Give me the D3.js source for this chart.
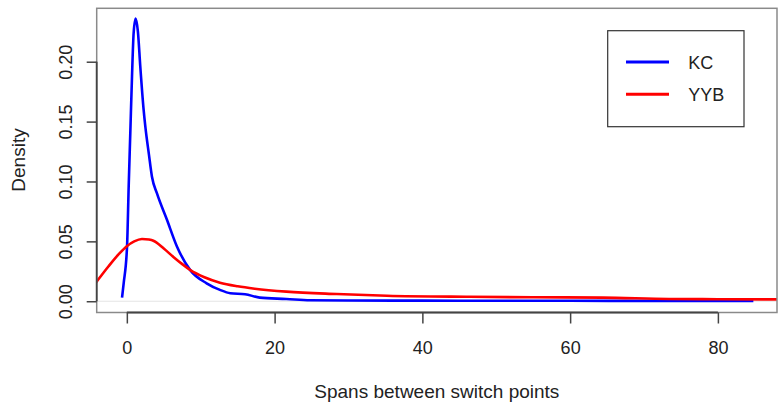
<!DOCTYPE html>
<html lang="en">
  <head>
    <meta charset="utf-8" />
    <title>Spans between switch points</title>
    <script src="https://cdn.jsdelivr.net/npm/d3@7/dist/d3.min.js"></script>
    <style>
      body {
        margin: 0;
        background: #fff;
      }
      text {
        font-family: "Liberation Sans", Arial, sans-serif;
        font-size: 18px;
        fill: #222;
      }
      .title {
        font-size: 19px;
      }
    </style>
  </head>

  <body>
    <svg id="chart"></svg>

    <script>
      // density estimates: [span, density]
      const kcX = [-0.65, -0.43, 0.03, 0.25, 0.47, 0.7, 0.92, 1.19, 1.5, 1.82, 2.27, 2.5, 3.0, 3.4, 4.08, 5.43, 6.78, 8.58, 10.8, 12.6, 14.0, 16.0, 18.0, 21.6, 24.8, 30, 40, 50, 60, 70, 84.8];
      const kcY = [0.003, 0.015, 0.046, 0.096, 0.141, 0.188, 0.224, 0.236, 0.225, 0.196, 0.16, 0.146, 0.122, 0.104, 0.09, 0.068, 0.0457, 0.026, 0.015, 0.0095, 0.0067, 0.0059, 0.003, 0.0019, 0.0008, 0.0006, 0.0005, 0.0004, 0.0004, 0.0003, 0.0003];

      const yybX = [-4.5, -4.08, -2.5, -1, 0, 1, 2.05, 3.0, 3.6, 5, 6.3, 7.5, 8.6, 10.5, 12.6, 15, 17.3, 21.6, 28.4, 35.2, 46.4, 55, 64.4, 73.4, 80, 90];
      const yybY = [0.013, 0.0164, 0.029, 0.04, 0.046, 0.05, 0.052, 0.0515, 0.0505, 0.044, 0.037, 0.031, 0.026, 0.02, 0.0155, 0.0125, 0.0105, 0.008, 0.006, 0.0046, 0.0037, 0.0033, 0.003, 0.0019, 0.0017, 0.0015];

      const seriesNames = ["KC", "YYB"];
      const seriesColors = ["#0000ff", "#ff0000"];
      const xTicks = [0, 20, 40, 60, 80];
      const yTicks = [0, 0.05, 0.1, 0.15, 0.2];

      const W = 778, H = 402;
      const margin = { top: 8.3, right: 1, bottom: 89.5, left: 96.7 };
      const width = W - margin.left - margin.right;
      const height = H - margin.top - margin.bottom;

      const svg = d3.select("#chart").attr("width", W).attr("height", H);
      const g = svg.append("g").attr("transform", `translate(${margin.left},${margin.top})`);

      // R style: 4% padding around the data range
      const xscale = d3.scaleLinear().domain([-4.08, 88.0]).range([0, width]);
      const yscale = d3.scaleLinear().domain([-0.0094, 0.2446]).range([height, 0]);

      g.append("clipPath")
        .attr("id", "plot-clip")
        .append("rect")
        .attr("width", width)
        .attr("height", height);

      // zero line
      g.append("line")
        .attr("x1", 0)
        .attr("x2", width)
        .attr("y1", yscale(0))
        .attr("y2", yscale(0))
        .attr("stroke", "#e4e4e4")
        .attr("stroke-width", 1);

      // density curves
      const line = d3
        .line()
        .x(d => xscale(d[0]))
        .y(d => yscale(d[1]))
        .curve(d3.curveMonotoneX);

      const series = [d3.zip(kcX, kcY), d3.zip(yybX, yybY)];

      g.append("g")
        .attr("clip-path", "url(#plot-clip)")
        .selectAll("path")
        .data(series)
        .join("path")
        .attr("d", line)
        .attr("fill", "none")
        .attr("stroke", (d, i) => seriesColors[i])
        .attr("stroke-width", 2.6)
        .attr("stroke-linejoin", "round");

      // plot box
      g.append("rect")
        .attr("width", width)
        .attr("height", height)
        .attr("fill", "none")
        .attr("stroke", "#8a8a8a")
        .attr("stroke-width", 1.5);

      // x axis
      const xaxis = d3.axisBottom(xscale).tickValues(xTicks).tickSize(11).tickPadding(18).tickFormat(d3.format("d"));
      const g_xaxis = g.append("g").attr("class", "x axis").attr("transform", `translate(0,${height})`).call(xaxis);
      g_xaxis.select(".domain").attr("d", `M${xscale(0)},0H${xscale(80)}`).attr("stroke", "#444").attr("stroke-width", 1.8);
      g_xaxis.selectAll(".tick line").attr("stroke", "#444").attr("stroke-width", 1.5);
      g_xaxis.selectAll("text").attr("fill", "#222").style("font-size", "18px").style("font-family", "Liberation Sans, Arial, sans-serif");

      // y axis, labels parallel to the axis
      const yaxis = d3.axisLeft(yscale).tickValues(yTicks).tickSize(10).tickFormat(d3.format(".2f"));
      const g_yaxis = g.append("g").attr("class", "y axis").call(yaxis);
      g_yaxis.select(".domain").attr("d", `M0,${yscale(0)}V${yscale(0.2)}`).attr("stroke", "#444").attr("stroke-width", 1.8);
      g_yaxis.selectAll(".tick line").attr("stroke", "#444").attr("stroke-width", 1.5);
      g_yaxis
        .selectAll("text")
        .attr("x", null)
        .attr("dy", null)
        .attr("text-anchor", "middle")
        .attr("transform", "translate(-25,0) rotate(-90)")
        .attr("fill", "#222")
        .style("font-size", "18px")
        .style("font-family", "Liberation Sans, Arial, sans-serif");

      // axis titles, centred on the plot region
      svg.append("text")
        .attr("class", "title")
        .attr("x", margin.left + width / 2)
        .attr("y", 398)
        .attr("text-anchor", "middle")
        .text("Spans between switch points");

      svg.append("text")
        .attr("class", "title")
        .attr("transform", `translate(24.5,160) rotate(-90)`)
        .attr("text-anchor", "middle")
        .text("Density");

      // legend
      const legend = svg.append("g").attr("transform", "translate(607.7,30.7)");
      legend.append("rect")
        .attr("width", 136.3)
        .attr("height", 96)
        .attr("fill", "#fff")
        .attr("stroke", "#333")
        .attr("stroke-width", 1.2);

      const item = legend
        .selectAll("g.item")
        .data(seriesNames)
        .join("g")
        .attr("class", "item")
        .attr("transform", (d, i) => `translate(0,${31.3 + i * 32.3})`);

      item.append("line")
        .attr("x1", 18.3)
        .attr("x2", 61.3)
        .attr("stroke", (d, i) => seriesColors[i])
        .attr("stroke-width", 3);

      item.append("text")
        .attr("x", 80.5)
        .attr("y", 6.5)
        .text(d => d);
    </script>
  </body>
</html>
